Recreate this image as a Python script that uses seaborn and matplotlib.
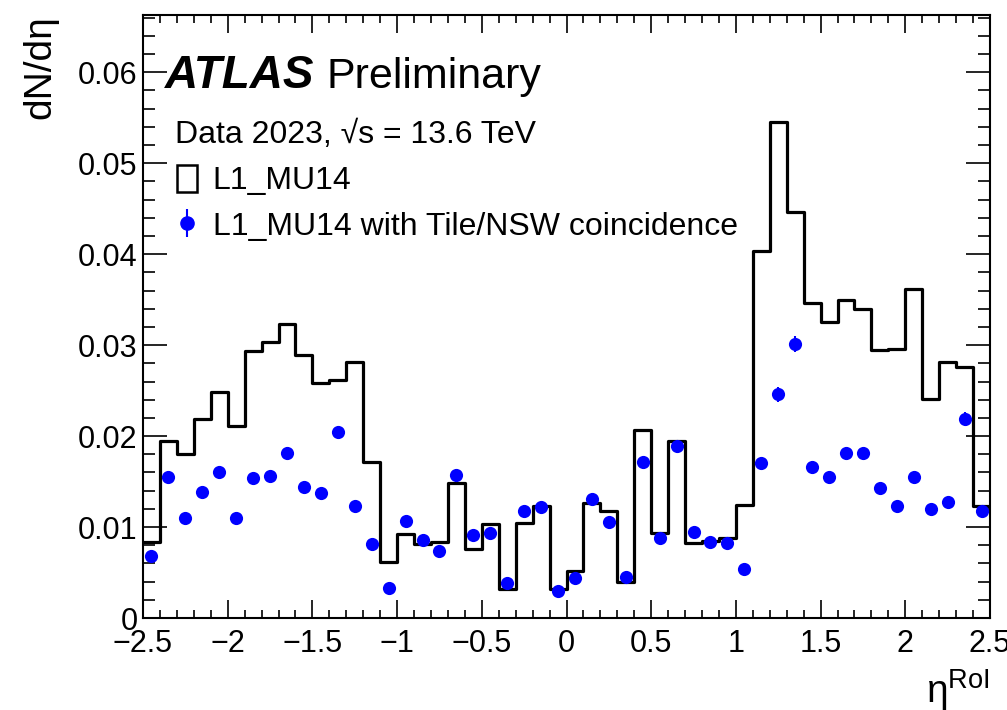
import numpy as np
import pandas as pd
import matplotlib
matplotlib.use("Agg")
import matplotlib.pyplot as plt
import seaborn as sns
from matplotlib.lines import Line2D
from matplotlib.patches import Patch
from matplotlib.ticker import MultipleLocator, FuncFormatter

# L1_MU14 step histogram, one value per 0.1 bin from -2.5 to 2.5
hist_l1 = [
    0.0084, 0.0195, 0.0180, 0.0219, 0.0249, 0.0211, 0.0294, 0.0303, 0.0323, 0.0289,
    0.0258, 0.0262, 0.0282, 0.0172, 0.0062, 0.0092, 0.0081, 0.0084, 0.0148, 0.0076,
    0.0103, 0.0032, 0.0105, 0.0123, 0.0032, 0.0052, 0.0126, 0.0118, 0.0040, 0.0207,
    0.0093, 0.0195, 0.0082, 0.0085, 0.0088, 0.0124, 0.0404, 0.0545, 0.0446, 0.0346,
    0.0325, 0.0350, 0.0340, 0.0295, 0.0296, 0.0362, 0.0241, 0.0282, 0.0276, 0.0123,
]

# L1_MU14 with Tile/NSW coincidence (points at bin centres)
coinc = [
    0.0068, 0.0155, 0.0110, 0.0138, 0.0160, 0.0110, 0.0154, 0.0156, 0.0181, 0.0144,
    0.0137, 0.0204, 0.0123, 0.0081, 0.0033, 0.0107, 0.0086, 0.0074, 0.0157, 0.0091,
    0.0094, 0.0038, 0.0118, 0.0122, 0.0030, 0.0044, 0.0131, 0.0106, 0.0045, 0.0171,
    0.0088, 0.0189, 0.0095, 0.0084, 0.0083, 0.0054, 0.0170, 0.0246, 0.0301, 0.0166,
    0.0155, 0.0181, 0.0181, 0.0143, 0.0123, 0.0155, 0.0120, 0.0127, 0.0219, 0.0118,
]

coinc_err = [
    0.0003, 0.0005, 0.0004, 0.0005, 0.0005, 0.0004, 0.0005, 0.0005, 0.0007, 0.0005,
    0.0005, 0.0007, 0.0005, 0.0004, 0.0003, 0.0004, 0.0004, 0.0004, 0.0006, 0.0004,
    0.0004, 0.0003, 0.0005, 0.0005, 0.0003, 0.0003, 0.0005, 0.0004, 0.0003, 0.0006,
    0.0004, 0.0006, 0.0004, 0.0004, 0.0004, 0.0003, 0.0006, 0.0008, 0.0009, 0.0006,
    0.0005, 0.0006, 0.0006, 0.0005, 0.0005, 0.0005, 0.0005, 0.0005, 0.0007, 0.0005,
]

ETA_MIN, ETA_MAX, N_BINS = -2.5, 2.5, 50
edges = np.linspace(ETA_MIN, ETA_MAX, N_BINS + 1)
centers = (edges[:-1] + edges[1:]) / 2

df = pd.DataFrame({"eta": centers, "l1": hist_l1, "coinc": coinc, "err": coinc_err})

sns.set_theme(style="ticks")
plt.rcParams["font.family"] = ["Liberation Sans", "DejaVu Sans"]
plt.rcParams["text.color"] = "black"
plt.rcParams["axes.labelcolor"] = "black"
plt.rcParams["mathtext.fontset"] = "custom"
plt.rcParams["mathtext.rm"] = "Liberation Sans"
plt.rcParams["mathtext.it"] = "Liberation Sans:italic"
plt.rcParams["axes.unicode_minus"] = True

fig = plt.figure(figsize=(10.07, 7.10), dpi=100)
ax = fig.add_axes([143 / 1007, 92 / 710, 847 / 1007, 603 / 710])

sns.histplot(data=df, x="eta", weights="l1", bins=N_BINS, binrange=(ETA_MIN, ETA_MAX),
             element="step", fill=False, color="black", linewidth=2.3, ax=ax)
ax.errorbar(df["eta"], df["coinc"], yerr=df["err"], fmt="none",
            ecolor="blue", elinewidth=1.5, capsize=0, zorder=3)
sns.scatterplot(data=df, x="eta", y="coinc", color="blue", s=90,
                linewidth=0, zorder=4, ax=ax)

ax.set_xlim(ETA_MIN, ETA_MAX)
ax.set_ylim(0, 0.0663)

for s in ax.spines.values():
    s.set_linewidth(1.5)
    s.set_color("black")
    s.set_visible(True)

ax.xaxis.set_major_locator(MultipleLocator(0.5))
ax.xaxis.set_minor_locator(MultipleLocator(0.1))
ax.yaxis.set_major_locator(MultipleLocator(0.01))
ax.yaxis.set_minor_locator(MultipleLocator(0.002))
ax.xaxis.set_major_formatter(FuncFormatter(lambda v, p: f"{v:g}".replace("-", "\u2212")))
ax.yaxis.set_major_formatter(FuncFormatter(lambda v, p: "0" if abs(v) < 1e-9 else f"{v:.2f}"))

ax.tick_params(axis="both", which="both", direction="in", top=True, right=True,
               colors="black", width=1.2, labelsize=22)
ax.tick_params(axis="x", which="major", length=13, pad=8)
ax.tick_params(axis="x", which="minor", length=6)
ax.tick_params(axis="y", which="major", length=17, pad=4)
ax.tick_params(axis="y", which="minor", length=8.5)

ax.set_xlabel("\u03b7$^{\\mathrm{RoI}}$", fontsize=28, loc="right", labelpad=6)
ax.set_ylabel("dN/d\u03b7", fontsize=28, loc="top", labelpad=14)

ax.text(0.026, 0.879, "ATLAS", transform=ax.transAxes, fontsize=33,
        fontweight="bold", fontstyle="italic", ha="left", va="baseline")
ax.text(0.217, 0.879, "Preliminary", transform=ax.transAxes, fontsize=31,
        ha="left", va="baseline")
ax.text(0.038, 0.788, "Data 2023, \u221as = 13.6 TeV", transform=ax.transAxes,
        fontsize=23, ha="left", va="baseline")

handles = [
    Patch(facecolor="none", edgecolor="black", linewidth=1.8),
    (Line2D([], [], color="blue", marker="|", markersize=20, markeredgewidth=1.5, ls=""),
     Line2D([], [], color="blue", marker="o", markersize=9.5, ls="")),
]
labels = ["L1_MU14", "L1_MU14 with Tile/NSW coincidence"]
leg = ax.legend(handles, labels, loc="upper left", bbox_to_anchor=(0.040, 0.752),
                frameon=False, fontsize=23, handlelength=0.62, handleheight=0.95,
                handletextpad=0.5, labelspacing=0.45, borderpad=0, borderaxespad=0)
for t in leg.get_texts():
    t.set_color("black")

fig.savefig("out.png", dpi=100)
